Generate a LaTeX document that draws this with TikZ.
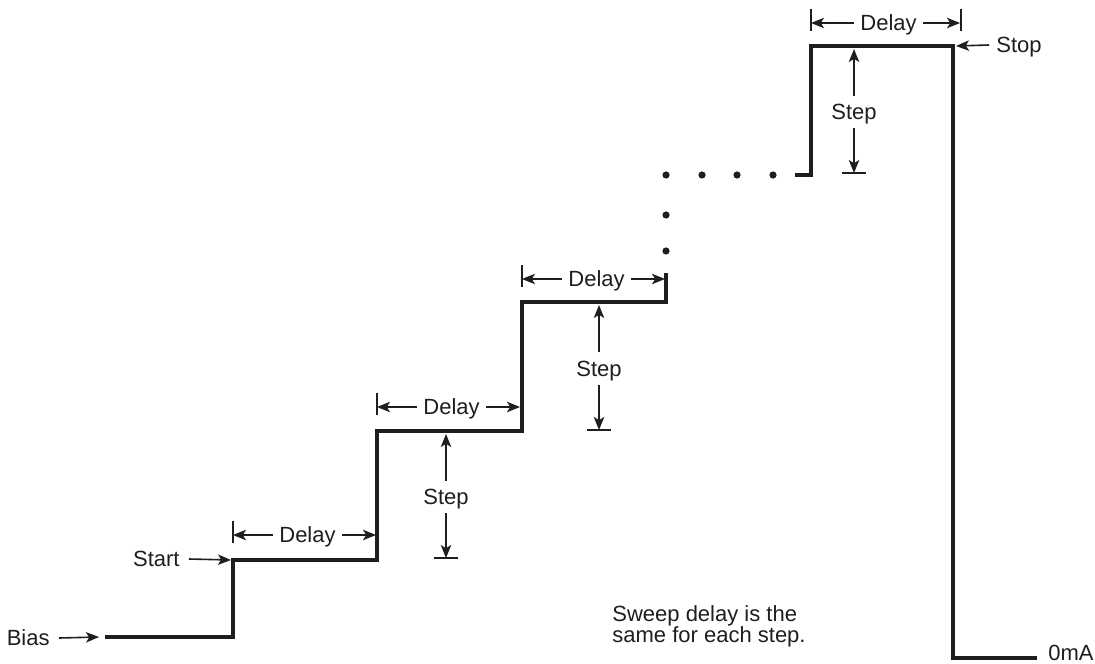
\documentclass[tikz,border=0pt]{standalone}
\usepackage{fontspec}
\setmainfont{Liberation Sans}
\usepackage{xcolor}
\definecolor{TraceBlack}{RGB}{30,30,30}
\usetikzlibrary{arrows.meta, positioning, calc}
\tikzset{
  % staircase trace
  trace/.style={draw=TraceBlack, line width=1.75pt, line join=miter},
  % dimension arrows
  dimarr/.style={-{Stealth[length=6.5pt,width=5.2pt,inset=1.6pt]}, line width=0.8pt, TraceBlack},
  tickmark/.style={line width=0.6pt, TraceBlack},
  % text labels
  lbl/.style={font=\fontsize{11}{10.5}\selectfont, text=TraceBlack,
    text height=7.8pt, text depth=0pt, inner sep=1.5pt},
  dot/.style={fill=TraceBlack},
}

\begin{document}
\begin{tikzpicture}[x=0.5pt, y=-0.5pt]
  \useasboundingbox (0,0) rectangle (1095,663);

  % corners of the trace
  \coordinate (bias) at (105,637);
  \coordinate (r1b) at (233,637);
  \coordinate (r1t) at (233,560);
  \coordinate (r2b) at (377,560);
  \coordinate (r2t) at (377,431);
  \coordinate (r3b) at (522,431);
  \coordinate (r3t) at (522,302);
  \coordinate (r4b) at (666,302);
  \coordinate (r4t) at (666,273);
  \coordinate (r5a) at (795,175);
  \coordinate (r5b) at (811,175);
  \coordinate (r5t) at (811,46);
  \coordinate (fall) at (953,46);
  \coordinate (zero) at (953,658);
  \coordinate (zend) at (1037,658);

  \draw[trace] (bias) -- (r1b) -- (r1t) -- (r2b) -- (r2t) -- (r3b) -- (r3t) -- (r4b) -- (r4t);
  \draw[trace] (r5a) -- (r5b) -- (r5t) -- (fall) -- (zero) -- (zend);

  % dots for the skipped steps
  \foreach \px/\py in {666/175, 702/175, 737/175, 773/175, 666/215, 666/251}
    \fill[dot] (\px,\py) circle[radius=1.8pt];

  % Delay spans
  \foreach \i/\xa/\xb/\y in {1/233/376/535, 2/377/520/407, 3/522/665/279, 4/811/960/23}{
    \node[lbl, inner xsep=3pt] (delay\i) at ({(\xa+\xb)/2+3},\y) {Delay};
    \coordinate (dl\i) at (\xa,\y);
    \coordinate (dr\i) at (\xb,\y);
    \draw[tickmark] (\xa,\y-14) -- (\xa,\y+8);
    \draw[dimarr] (delay\i.west) -- (dl\i);
    \draw[dimarr] (delay\i.east) -- (dr\i);
  }
  \draw[tickmark] (961,9) -- (961,31);

  % Step heights
  \foreach \i/\x/\ya/\yb in {1/446/558/434, 2/599/430/305, 3/854/173/49}{
    \node[lbl, inner ysep=4pt] (step\i) at (\x,{(\ya+\yb)/2+1}) {Step};
    \coordinate (st\i) at (\x,\yb);
    \coordinate (sb\i) at (\x,\ya);
    \draw[dimarr] (step\i.north) -- (st\i);
    \draw[dimarr] (step\i.south) -- (sb\i);
    \draw[tickmark] (\x-12,\ya) -- (\x+12,\ya);
  }

  % level labels
  \node[lbl, anchor=east] (biastxt) at (53,638) {Bias};
  \draw[dimarr] ([xshift=3pt]biastxt.east) -- ($(bias)+(-6,0)$);
  \node[lbl, anchor=east] (starttxt) at (183,559) {Start};
  \draw[dimarr] ([xshift=3pt]starttxt.east) -- ($(r1t)+(-2,0)$);
  \node[lbl, anchor=west] (stoptxt) at (993,45) {Stop};
  \draw[dimarr] ([xshift=-2pt]stoptxt.west) -- ($(fall)+(3,0)$);
  \node[lbl, anchor=west] (zerotxt) at (1045,653) {0mA};

  % note
  \node[lbl, anchor=north west, align=left, text height=, text depth=]
    (note) at (609,602) {Sweep delay is the\\same for each step.};
\end{tikzpicture}
\end{document}
